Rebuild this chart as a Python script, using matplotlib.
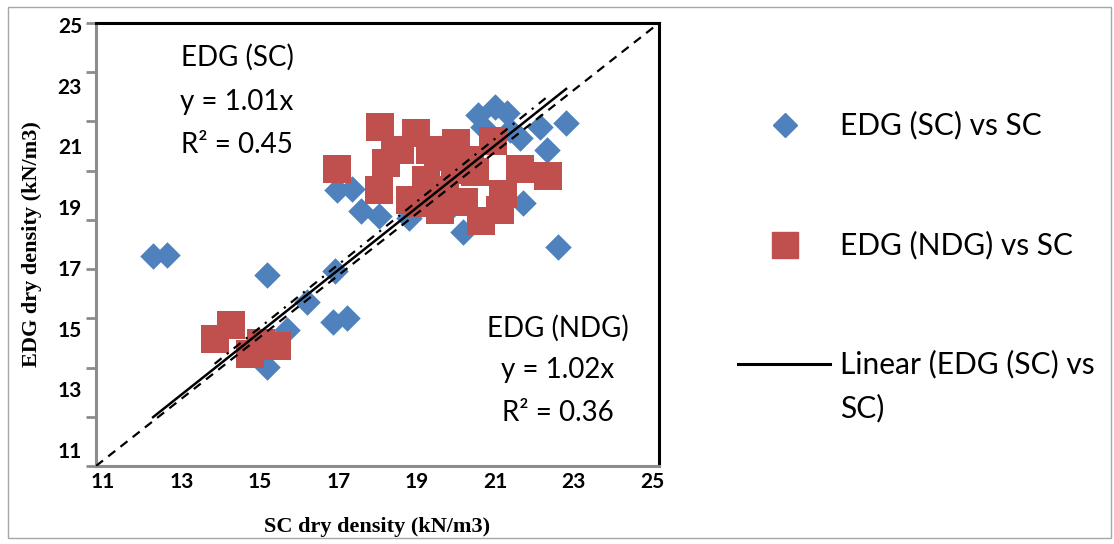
import numpy as np
import matplotlib.pyplot as plt
from matplotlib.lines import Line2D
from matplotlib.patches import Rectangle

# SC dry density vs EDG dry density (kN/m3)
sc_x = [12.42, 12.77, 15.25, 15.25, 15.75, 16.25, 16.94, 16.89, 17.24, 16.99,
        17.37, 17.59, 18.04, 18.78, 19.80, 20.13, 21.62, 22.49, 22.69, 22.22,
        22.04, 21.54, 21.30, 20.50, 20.92, 21.22, 20.62]
sc_y = [17.64, 17.67, 17.04, 14.13, 15.30, 16.18, 17.16, 15.55, 15.68, 19.72,
        19.75, 19.06, 18.90, 18.84, 19.15, 18.39, 19.31, 17.92, 21.84, 20.99,
        21.71, 21.37, 21.62, 22.09, 22.35, 22.16, 21.71]

ndg_x = [13.95, 14.36, 14.82, 15.10, 15.49, 16.99, 18.06, 18.95, 18.21, 18.04,
         18.81, 19.01, 19.51, 19.95, 20.86, 20.57, 21.54, 22.23, 21.12, 19.21,
         19.68, 20.43, 20.15, 18.44, 19.31, 19.93, 21.05, 19.55, 18.56, 20.30]
ndg_y = [15.01, 15.46, 14.55, 14.89, 14.79, 20.39, 21.70, 21.52, 20.58, 19.72,
         19.41, 19.31, 20.76, 21.21, 21.27, 18.74, 20.39, 20.16, 19.60, 20.04,
         19.72, 20.29, 19.34, 20.99, 20.99, 20.35, 19.09, 19.09, 20.99, 20.67]

slope_sc = 1.01
slope_ndg = 1.02
r2_sc = 0.45
r2_ndg = 0.36

y_tick_labels = ['25', '23', '21', '19', '17', '15', '13', '11']
x_tick_labels = ['11', '13', '15', '17', '19', '21', '23', '25']

blue = '#4F81BD'
red = '#C0504D'
grey = '#8C8C8C'

fig = plt.figure(figsize=(11.14, 5.44), dpi=100)
ax = fig.add_axes([96 / 1114, 1 - 466 / 544, 563 / 1114, 443 / 544])

ax.scatter(sc_x, sc_y, marker='D', s=13.5 ** 2, color=blue, linewidths=0, zorder=2)
ax.scatter(ndg_x, ndg_y, marker='s', s=20 ** 2, color=red, linewidths=0, zorder=3)

# 1:1 line and the two linear fits through the origin
ax.plot([11, 25], [11, 25], color='black', lw=1.6, ls=(0, (4, 3)), zorder=4)
xs = np.array([min(sc_x), max(sc_x)])
ax.plot(xs, slope_sc * xs, color='black', lw=1.8, zorder=5)
xn = np.array([min(ndg_x), max(ndg_x)])
ax.plot(xn, slope_ndg * xn, color='black', lw=1.6, ls=(0, (4, 3, 1, 3)), zorder=4)

ax.set_xlim(11, 25)
ax.set_ylim(11, 25)

ax.set_yticks(np.linspace(24.94, 11.5, 8))
ax.set_yticklabels(y_tick_labels)
ax.set_yticks(np.linspace(11, 25, 10), minor=True)
ax.set_xticks(np.linspace(11.17, 24.83, 8))
ax.set_xticklabels(x_tick_labels)
ax.tick_params(axis='y', which='major', length=0, pad=10)
ax.tick_params(axis='y', which='minor', length=7.5, width=2, color=grey, direction='out')
ax.tick_params(axis='x', which='major', length=0, pad=4)
for lab in ax.get_xticklabels() + ax.get_yticklabels():
    lab.set_fontfamily('Lato')
    lab.set_fontweight('bold')
    lab.set_fontsize(15)

for side in ['left', 'bottom']:
    ax.spines[side].set_color(grey)
    ax.spines[side].set_linewidth(2.2)
for side in ['top', 'right']:
    ax.spines[side].set_color('black')
    ax.spines[side].set_linewidth(2.2)

ax.set_xlabel('SC dry density (kN/m3)', family='Liberation Serif',
              fontweight='bold', fontsize=16, labelpad=18)
ax.set_ylabel('EDG dry density (kN/m3)', family='Liberation Serif',
              fontweight='bold', fontsize=16, labelpad=11)

# fit equations, one text per line
ann = dict(family='Lato', fontsize=20, ha='center', va='center')
ax.text(14.51, 23.93, 'EDG (SC)', **ann)
ax.text(14.51, 22.50, 'y = %.2fx' % slope_sc, **ann)
ax.text(14.51, 21.14, 'R² = %.2f' % r2_sc, **ann)
ax.text(22.49, 15.36, 'EDG (NDG)', **ann)
ax.text(22.49, 14.03, 'y = %.2fx' % slope_ndg, **ann)
ax.text(22.49, 12.67, 'R² = %.2f' % r2_ndg, **ann)

# legend drawn by hand, in pixel units of the figure
leg = fig.add_axes([0, 0, 1, 1], facecolor='none')
leg.set_xlim(0, 1114)
leg.set_ylim(544, 0)
leg.axis('off')
leg.add_line(Line2D([785], [125], marker='D', ms=12, color=blue, lw=0))
leg.add_line(Line2D([785], [245], marker='s', ms=18.5, color=red, lw=0))
leg.add_line(Line2D([738, 830], [364, 364], color='black', lw=2.2))
leg_font = dict(family='Lato', fontsize=21.5, va='center', ha='left')
leg.text(840, 125, 'EDG (SC) vs SC', **leg_font)
leg.text(840, 245, 'EDG (NDG) vs SC', **leg_font)
leg.text(840, 364, 'Linear (EDG (SC) vs', **leg_font)
leg.text(840, 408, 'SC)', **leg_font)
leg.add_patch(Rectangle((8, 7), 1103, 531, fill=False, edgecolor='#A6A6A6', lw=1))

fig.savefig('out.png', dpi=100)
